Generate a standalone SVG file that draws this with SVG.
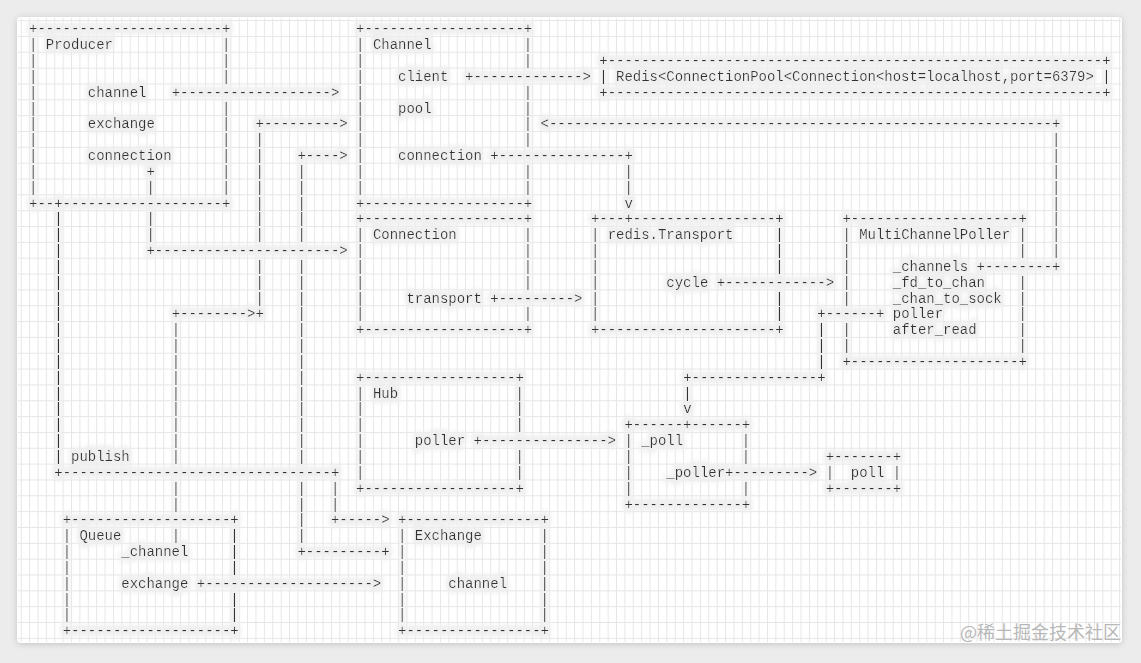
<svg xmlns="http://www.w3.org/2000/svg" width="1141" height="663" viewBox="0 0 1141 663">
<defs>
<style>
.t{font-family:"Liberation Mono","Courier New",monospace;font-size:13.975px;fill:#333;}
.wm{font-family:"Noto Sans CJK SC","Noto Sans",sans-serif;font-size:18px;fill:#b8b8b8;}
</style>
<pattern id="grid" patternUnits="userSpaceOnUse" x="29.1" y="20.1" width="8.385" height="15.84">
<path d="M0 0.5H8.385M0.5 0V15.84" stroke="#e6e6e6" stroke-width="1" fill="none"/>
</pattern>
<filter id="shadow" x="-5%" y="-5%" width="110%" height="110%">
<feDropShadow dx="0" dy="1" stdDeviation="3" flood-color="#000" flood-opacity="0.18"/>
</filter>
<filter id="halo" filterUnits="userSpaceOnUse" x="0" y="0" width="1141" height="663">
<feMorphology in="SourceAlpha" operator="dilate" radius="3 5" result="d"/>
<feGaussianBlur in="d" stdDeviation="2" result="b"/>
<feFlood flood-color="#efefef" result="f"/>
<feComposite in="f" in2="b" operator="in" result="bg"/>
<feMerge><feMergeNode in="bg"/><feMergeNode in="SourceGraphic"/></feMerge>
</filter>
</defs>
<rect width="1141" height="663" fill="#ececec"/>
<rect x="17" y="17" width="1105" height="626" rx="4" fill="#fff" filter="url(#shadow)"/>
<rect x="18" y="18" width="1103" height="624" fill="url(#grid)"/>
<g filter="url(#halo)">
<g id="producer">
<text class="t" x="29.1" y="33.3">+----------------------+</text>
<text class="t" x="29.1 29.1 29.1 29.1 29.1 29.1 29.1 29.1 29.1 29.1" y="49.14 64.98 80.82 96.66 112.5 128.34 144.18 160.02 175.86 191.7">||||||||||</text>
<text class="t" x="221.96 221.96 221.96" y="49.14 64.98 80.82">|||</text>
<text class="t" x="221.96 221.96 221.96 221.96 221.96 221.96" y="112.5 128.34 144.18 160.02 175.86 191.7">||||||</text>
<text class="t" x="45.87" y="49.14">Producer</text>
<text class="t" x="87.8" y="96.66">channel</text>
<text class="t" x="87.8" y="128.34">exchange</text>
<text class="t" x="87.8" y="160.02">connection</text>
<text class="t" x="29.1" y="207.54">+--+-------------------+</text>
</g>
<g id="channel">
<text class="t" x="356.12" y="33.3">+-------------------+</text>
<text class="t" x="356.12 356.12 356.12 356.12 356.12 356.12 356.12 356.12 356.12 356.12" y="49.14 64.98 80.82 96.66 112.5 128.34 144.18 160.02 175.86 191.7">||||||||||</text>
<text class="t" x="523.82 523.82" y="49.14 64.98">||</text>
<text class="t" x="523.82 523.82 523.82 523.82" y="96.66 112.5 128.34 144.18">||||</text>
<text class="t" x="523.82 523.82" y="175.86 191.7">||</text>
<text class="t" x="372.89" y="49.14">Channel</text>
<text class="t" x="398.04" y="80.82">client</text>
<text class="t" x="398.04" y="112.5">pool</text>
<text class="t" x="398.04" y="160.02">connection</text>
<text class="t" x="356.12" y="207.54">+-------------------+</text>
</g>
<g id="redis">
<text class="t" x="599.28" y="64.98">+-----------------------------------------------------------+</text>
<text class="t" x="599.28" y="80.82" xml:space="preserve">| Redis&lt;ConnectionPool&lt;Connection&lt;host=localhost,port=6379&gt; |</text>
<text class="t" x="599.28" y="96.66">+-----------------------------------------------------------+</text>
</g>
<g id="connection">
<text class="t" x="356.12" y="223.38">+-------------------+</text>
<text class="t" x="356.12 356.12 356.12 356.12 356.12 356.12" y="239.22 255.06 270.9 286.74 302.58 318.42">||||||</text>
<text class="t" x="523.82 523.82 523.82 523.82" y="239.22 255.06 270.9 286.74">||||</text>
<text class="t" x="523.82" y="318.42">|</text>
<text class="t" x="372.89" y="239.22">Connection</text>
<text class="t" x="406.43" y="302.58">transport</text>
<text class="t" x="356.12" y="334.26">+-------------------+</text>
</g>
<g id="transport">
<text class="t" x="590.9" y="223.38">+---+-----------------+</text>
<text class="t" x="590.9 590.9 590.9 590.9 590.9 590.9" y="239.22 255.06 270.9 286.74 302.58 318.42">||||||</text>
<text class="t" x="775.37 775.37 775.37" y="239.22 255.06 270.9">|||</text>
<text class="t" x="775.37 775.37" y="302.58 318.42">||</text>
<text class="t" x="607.67" y="239.22">redis.Transport</text>
<text class="t" x="666.36" y="286.74">cycle</text>
<text class="t" x="590.9" y="334.26">+---------------------+</text>
</g>
<g id="multichannelpoller">
<text class="t" x="842.45" y="223.38">+--------------------+</text>
<text class="t" x="842.45 842.45 842.45 842.45 842.45" y="239.22 255.06 270.9 286.74 302.58">|||||</text>
<text class="t" x="842.45 842.45" y="334.26 350.1">||</text>
<text class="t" x="1018.53 1018.53" y="239.22 255.06">||</text>
<text class="t" x="1018.53 1018.53 1018.53 1018.53 1018.53" y="286.74 302.58 318.42 334.26 350.1">|||||</text>
<text class="t" x="859.22" y="239.22">MultiChannelPoller</text>
<text class="t" x="892.76" y="270.9">_channels</text>
<text class="t" x="892.76" y="286.74">_fd_to_chan</text>
<text class="t" x="892.76" y="302.58">_chan_to_sock</text>
<text class="t" x="892.76" y="318.42">poller</text>
<text class="t" x="892.76" y="334.26">after_read</text>
<text class="t" x="842.45" y="365.94">+--------------------+</text>
</g>
<g id="hub">
<text class="t" x="356.12" y="381.78">+------------------+</text>
<text class="t" x="356.12 356.12 356.12 356.12 356.12 356.12" y="397.62 413.46 429.3 445.14 460.98 476.82">||||||</text>
<text class="t" x="515.43 515.43 515.43" y="397.62 413.46 429.3">|||</text>
<text class="t" x="515.43 515.43" y="460.98 476.82">||</text>
<text class="t" x="372.89" y="397.62">Hub</text>
<text class="t" x="414.81" y="445.14">poller</text>
<text class="t" x="356.12" y="492.66">+------------------+</text>
</g>
<g id="poll-box">
<text class="t" x="624.44" y="429.3">+------+------+</text>
<text class="t" x="624.44 624.44 624.44 624.44" y="445.14 460.98 476.82 492.66">||||</text>
<text class="t" x="741.83 741.83" y="445.14 460.98">||</text>
<text class="t" x="741.83" y="492.66">|</text>
<text class="t" x="641.21" y="445.14">_poll</text>
<text class="t" x="666.36" y="476.82">_poller</text>
<text class="t" x="624.44" y="508.5">+-------------+</text>
</g>
<g id="poll">
<text class="t" x="825.68" y="460.98">+-------+</text>
<text class="t" x="825.68" y="476.82" xml:space="preserve">|  poll |</text>
<text class="t" x="825.68" y="492.66">+-------+</text>
</g>
<g id="queue">
<text class="t" x="62.64" y="524.34">+-------------------+</text>
<text class="t" x="62.64 62.64 62.64 62.64 62.64 62.64" y="540.18 556.02 571.86 587.7 603.54 619.38">||||||</text>
<text class="t" x="230.34 230.34 230.34" y="540.18 556.02 571.86">|||</text>
<text class="t" x="230.34 230.34" y="603.54 619.38">||</text>
<text class="t" x="79.41" y="540.18">Queue</text>
<text class="t" x="121.34" y="556.02">_channel</text>
<text class="t" x="121.34" y="587.7">exchange</text>
<text class="t" x="62.64" y="635.22">+-------------------+</text>
</g>
<g id="exchange">
<text class="t" x="398.04" y="524.34">+----------------+</text>
<text class="t" x="398.04 398.04 398.04 398.04 398.04 398.04" y="540.18 556.02 571.86 587.7 603.54 619.38">||||||</text>
<text class="t" x="540.59 540.59 540.59 540.59 540.59 540.59" y="540.18 556.02 571.86 587.7 603.54 619.38">||||||</text>
<text class="t" x="414.81" y="540.18">Exchange</text>
<text class="t" x="448.35" y="587.7">channel</text>
<text class="t" x="398.04" y="635.22">+----------------+</text>
</g>
<g id="connectors">
<text class="t" x="465.12" y="80.82">+-------------&gt;</text>
<text class="t" x="171.65" y="96.66">+------------------&gt;</text>
<text class="t" x="255.5" y="128.34">+---------&gt;</text>
<text class="t" x="255.5 255.5 255.5 255.5 255.5 255.5 255.5" y="144.18 160.02 175.86 191.7 207.54 223.38 239.22">|||||||</text>
<text class="t" x="255.5 255.5 255.5" y="270.9 286.74 302.58">|||</text>
<text class="t" x="297.42" y="160.02">+----&gt;</text>
<text class="t" x="297.42 297.42 297.42 297.42 297.42" y="175.86 191.7 207.54 223.38 239.22">|||||</text>
<text class="t" x="297.42 297.42 297.42 297.42 297.42 297.42 297.42 297.42 297.42 297.42 297.42 297.42 297.42" y="270.9 286.74 302.58 318.42 334.26 350.1 365.94 381.78 397.62 413.46 429.3 445.14 460.98">|||||||||||||</text>
<text class="t" x="297.42 297.42 297.42 297.42" y="492.66 508.5 524.34 540.18">||||</text>
<text class="t" x="297.42" y="556.02">+---------+</text>
<text class="t" x="490.28" y="160.02">+---------------+</text>
<text class="t" x="624.44 624.44 624.44" y="175.86 191.7 207.54">||v</text>
<text class="t" x="540.59" y="128.34">&lt;------------------------------------------------------------+</text>
<text class="t" x="1052.07 1052.07 1052.07 1052.07 1052.07 1052.07 1052.07 1052.07" y="144.18 160.02 175.86 191.7 207.54 223.38 239.22 255.06">||||||||</text>
<text class="t" x="976.61" y="270.9">+--------+</text>
<text class="t" x="146.49 146.49" y="175.86 191.7">+|</text>
<text class="t" x="146.49 146.49" y="223.38 239.22">||</text>
<text class="t" x="146.49" y="255.06">+----------------------&gt;</text>
<text class="t" x="716.67" y="286.74">+------------&gt;</text>
<text class="t" x="490.28" y="302.58">+---------&gt;</text>
<text class="t" x="171.65" y="318.42">+--------&gt;+</text>
<text class="t" x="171.65 171.65 171.65 171.65 171.65 171.65 171.65 171.65 171.65" y="334.26 350.1 365.94 381.78 397.62 413.46 429.3 445.14 460.98">|||||||||</text>
<text class="t" x="171.65 171.65" y="492.66 508.5">||</text>
<text class="t" x="171.65" y="540.18">|</text>
<text class="t" x="817.29" y="318.42">+------+</text>
<text class="t" x="817.29 817.29 817.29" y="334.26 350.1 365.94">|||</text>
<text class="t" x="683.13" y="381.78">+---------------+</text>
<text class="t" x="683.13 683.13" y="397.62 413.46">|v</text>
<text class="t" x="473.51" y="445.14">+---------------&gt;</text>
<text class="t" x="725.06" y="476.82">+---------&gt;</text>
<text class="t" x="54.26 54.26 54.26 54.26 54.26 54.26 54.26 54.26 54.26 54.26 54.26 54.26 54.26 54.26 54.26 54.26" y="223.38 239.22 255.06 270.9 286.74 302.58 318.42 334.26 350.1 365.94 381.78 397.62 413.46 429.3 445.14 460.98">||||||||||||||||</text>
<text class="t" x="71.03" y="460.98">publish</text>
<text class="t" x="54.26" y="476.82">+--------------------------------+</text>
<text class="t" x="330.96 330.96" y="492.66 508.5">||</text>
<text class="t" x="330.96" y="524.34">+-----&gt;</text>
<text class="t" x="196.8" y="587.7">+--------------------&gt;</text>
</g>
</g>
<text class="wm" x="1121" y="639" text-anchor="end">@稀土掘金技术社区</text>
</svg>
